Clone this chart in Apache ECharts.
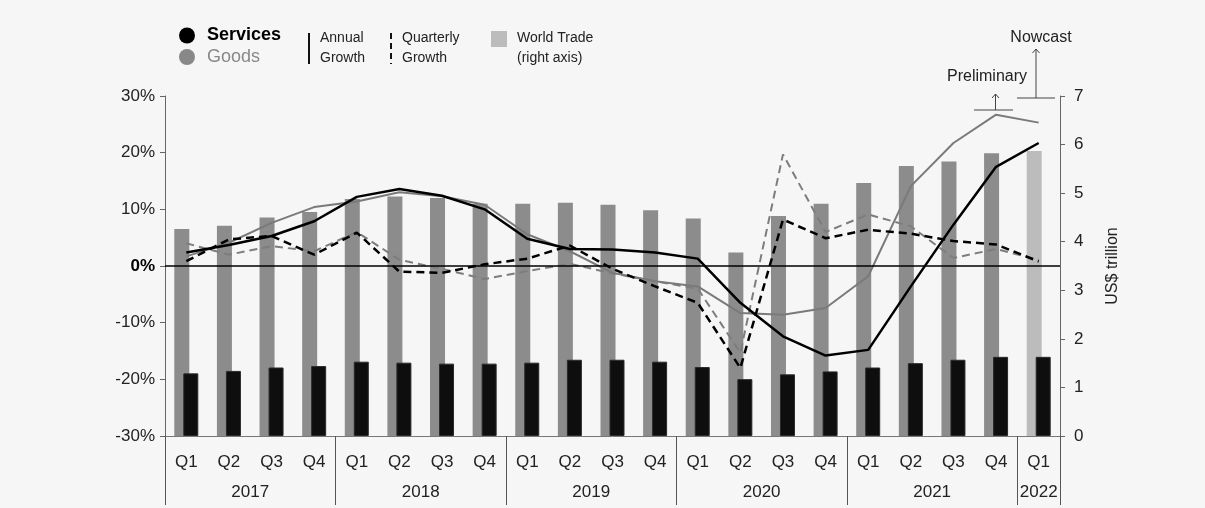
<!DOCTYPE html>
<html>
<head>
<meta charset="utf-8">
<script src="https://cdn.jsdelivr.net/npm/echarts@6/dist/echarts.min.js"></script>
<style>
  html, body { margin: 0; padding: 0; background: #f6f6f6; }
  #chart { width: 1205px; height: 508px; }
</style>
</head>
<body>
<div id="chart"></div>
<script>
// ---- Data ----
var quarters = ['Q1','Q2','Q3','Q4','Q1','Q2','Q3','Q4','Q1','Q2','Q3','Q4','Q1','Q2','Q3','Q4','Q1','Q2','Q3','Q4','Q1'];
var years = ['2017','2018','2019','2020','2021','2022'];
var quartersPerYear = [4,4,4,4,4,1];

// US$ trillion (right axis)
var goodsTrade    = [4.26,4.33,4.50,4.61,4.88,4.93,4.90,4.78,4.78,4.80,4.76,4.65,4.48,3.78,4.53,4.78,5.21,5.56,5.65,5.82,5.87];
var servicesTrade = [1.29,1.34,1.41,1.44,1.53,1.51,1.49,1.49,1.51,1.57,1.57,1.53,1.42,1.17,1.27,1.33,1.41,1.50,1.57,1.63,1.63];

// Growth, % (left axis)
var goodsAnnual       = [1.7,4.1,7.6,10.4,11.4,13.0,12.3,10.8,5.6,2.6,-1.2,-2.7,-3.6,-8.3,-8.6,-7.4,-1.8,14.1,21.7,26.7,25.3];
var servicesAnnual    = [2.4,3.7,5.3,7.9,12.2,13.6,12.4,10.0,4.8,3.0,2.9,2.4,1.3,-6.5,-12.4,-15.8,-14.8,-3.6,7.3,17.5,21.7];
var goodsQuarterly    = [4.0,2.0,3.5,2.6,6.0,1.1,-0.5,-2.3,-0.9,0.4,-1.3,-2.7,-4.0,-15.3,19.7,6.0,9.1,7.0,1.4,3.0,1.1];
var servicesQuarterly = [0.85,4.7,5.3,2.0,5.9,-1.0,-1.2,0.3,1.3,3.6,-0.5,-3.6,-6.5,-18.0,8.2,4.9,6.4,5.7,4.4,3.8,0.8];

var nowcastIndex = 20;

// ---- Year axis built on half-quarter slots ----
var nSlots = quarters.length * 2 + 1;
var slotData = [];
for (var s = 0; s < nSlots; s++) slotData.push('s' + s);
var yearAtSlot = {};
var boundarySlots = {0: true};
var acc = 0;
for (var y = 0; y < years.length; y++) {
  yearAtSlot[acc * 2 + quartersPerYear[y]] = years[y];
  acc += quartersPerYear[y];
  boundarySlots[acc * 2] = true;
}

var FONT = 'Liberation Sans, Arial, Helvetica, sans-serif';
var chart = echarts.init(document.getElementById('chart'));

var goodsBarData = goodsTrade.map(function (v, i) {
  return i === nowcastIndex ? { value: v, itemStyle: { color: '#bcbcbc' } } : v;
});

function gtext(x, y, txt, opts) {
  opts = opts || {};
  return {
    type: 'text', x: x, y: y, silent: true,
    style: {
      text: txt, fill: opts.fill || '#222', font: (opts.weight || 'normal') + ' ' + (opts.size || 14) + 'px ' + FONT,
      textAlign: opts.align || 'left', textVerticalAlign: 'middle'
    }
  };
}
function gline(pts, opts) {
  opts = opts || {};
  return {
    type: 'polyline', silent: true,
    shape: { points: pts },
    style: { stroke: opts.stroke || '#333', lineWidth: opts.width || 1, fill: null, lineDash: opts.dash || null }
  };
}

var option = {
  backgroundColor: '#f6f6f6',
  animation: false,
  textStyle: { fontFamily: FONT },
  grid: { left: 165, right: 145, top: 96, bottom: 72, containLabel: false },
  xAxis: [
    {
      type: 'category', position: 'bottom', data: quarters, boundaryGap: true,
      axisLine: { show: true, onZero: false, lineStyle: { color: '#777', width: 1 } },
      axisTick: { show: false },
      axisLabel: { color: '#222', fontSize: 17, margin: 18, fontFamily: FONT, interval: 0 }
    },
    {
      type: 'category', position: 'bottom', data: slotData, boundaryGap: false,
      axisLine: { show: false, onZero: false },
      axisTick: {
        show: true, length: 69, lineStyle: { color: '#555', width: 1 },
        interval: function (idx) { return !!boundarySlots[idx]; }
      },
      axisLabel: {
        show: true, color: '#222', fontSize: 17, margin: 48, fontFamily: FONT,
        interval: function (idx) { return yearAtSlot[idx] !== undefined; },
        formatter: function (val, idx) { return yearAtSlot[idx] || ''; }
      },
      splitLine: { show: false }
    }
  ],
  yAxis: [
    {
      type: 'value', min: -30, max: 30, interval: 10, position: 'left',
      axisLine: { show: true, lineStyle: { color: '#666', width: 1 } },
      axisTick: { show: true, length: 5, lineStyle: { color: '#666' } },
      splitLine: { show: false },
      axisLabel: {
        color: '#222', fontSize: 17, margin: 10, fontFamily: FONT,
        formatter: function (v) { return v === 0 ? '{b|0%}' : v + '%'; },
        rich: { b: { fontWeight: 'bold', fontSize: 17, color: '#000', fontFamily: FONT } }
      }
    },
    {
      type: 'value', min: 0, max: 7, interval: 1, position: 'right',
      axisLine: { show: true, lineStyle: { color: '#666', width: 1 } },
      axisTick: { show: true, length: 5, lineStyle: { color: '#666' } },
      splitLine: { show: false },
      axisLabel: { color: '#222', fontSize: 17, margin: 14, fontFamily: FONT },
      name: 'US$ trillion', nameLocation: 'middle', nameRotate: 90, nameGap: 45,
      nameTextStyle: { color: '#222', fontSize: 16, fontFamily: FONT }
    }
  ],
  series: [
    {
      name: 'Goods trade', type: 'bar', xAxisIndex: 0, yAxisIndex: 1,
      data: goodsBarData, barWidth: 15, barGap: '-40%', z: 2,
      itemStyle: { color: '#8c8c8c' }
    },
    {
      name: 'Services trade', type: 'bar', xAxisIndex: 0, yAxisIndex: 1,
      data: servicesTrade, barWidth: 15, barGap: '-40%', z: 2,
      itemStyle: { color: '#0e0e0e', borderColor: '#2a2a2a', borderWidth: 1 }
    },
    {
      name: 'Goods quarterly', type: 'line', xAxisIndex: 0, yAxisIndex: 0,
      data: goodsQuarterly, symbol: 'none', z: 4,
      lineStyle: { color: '#7d7d7d', width: 2, type: [8, 5] }
    },
    {
      name: 'Goods annual', type: 'line', xAxisIndex: 0, yAxisIndex: 0,
      data: goodsAnnual, symbol: 'none', z: 4,
      lineStyle: { color: '#7a7a7a', width: 2 }
    },
    {
      name: 'Services quarterly', type: 'line', xAxisIndex: 0, yAxisIndex: 0,
      data: servicesQuarterly, symbol: 'none', z: 5,
      lineStyle: { color: '#000', width: 2.5, type: [8, 5] }
    },
    {
      name: 'Services annual', type: 'line', xAxisIndex: 0, yAxisIndex: 0,
      data: servicesAnnual, symbol: 'none', z: 5,
      lineStyle: { color: '#000', width: 2.5 },
      markLine: {
        silent: true, symbol: ['none', 'none'], label: { show: false },
        lineStyle: { color: '#000', width: 1.5, type: 'solid' },
        data: [{ yAxis: 0 }]
      }
    }
  ],
  graphic: [
    // Legend
    { type: 'circle', shape: { cx: 187, cy: 35.5, r: 8 }, style: { fill: '#000' }, silent: true },
    gtext(207, 35.5, 'Services', { size: 18, weight: 'bold', fill: '#000' }),
    { type: 'circle', shape: { cx: 187, cy: 57, r: 8 }, style: { fill: '#888' }, silent: true },
    gtext(207, 57, 'Goods', { size: 18, fill: '#888' }),
    gline([[309, 33], [309, 64]], { stroke: '#111', width: 2 }),
    gtext(320, 38, 'Annual', { size: 14 }),
    gtext(320, 58, 'Growth', { size: 14 }),
    gline([[391, 33], [391, 64]], { stroke: '#111', width: 2, dash: [6, 4] }),
    gtext(402, 38, 'Quarterly', { size: 14 }),
    gtext(402, 58, 'Growth', { size: 14 }),
    { type: 'rect', shape: { x: 491, y: 31, width: 16, height: 16 }, style: { fill: '#bcbcbc' }, silent: true },
    gtext(517, 38, 'World Trade', { size: 14 }),
    gtext(517, 58, '(right axis)', { size: 14 }),
    // Annotations
    gtext(987, 77, 'Preliminary', { size: 16, align: 'center' }),
    gline([[974, 110], [1013, 110]], { stroke: '#444' }),
    gline([[995.5, 110], [995.5, 94]], { stroke: '#444' }),
    gline([[992, 98], [995.5, 94], [999, 98]], { stroke: '#444' }),
    gtext(1041, 38, 'Nowcast', { size: 16, align: 'center' }),
    gline([[1017, 98], [1055, 98]], { stroke: '#444' }),
    gline([[1036, 98], [1036, 49]], { stroke: '#444' }),
    gline([[1032.5, 53], [1036, 49], [1039.5, 53]], { stroke: '#444' })
  ]
};
chart.setOption(option);
</script>
</body>
</html>
